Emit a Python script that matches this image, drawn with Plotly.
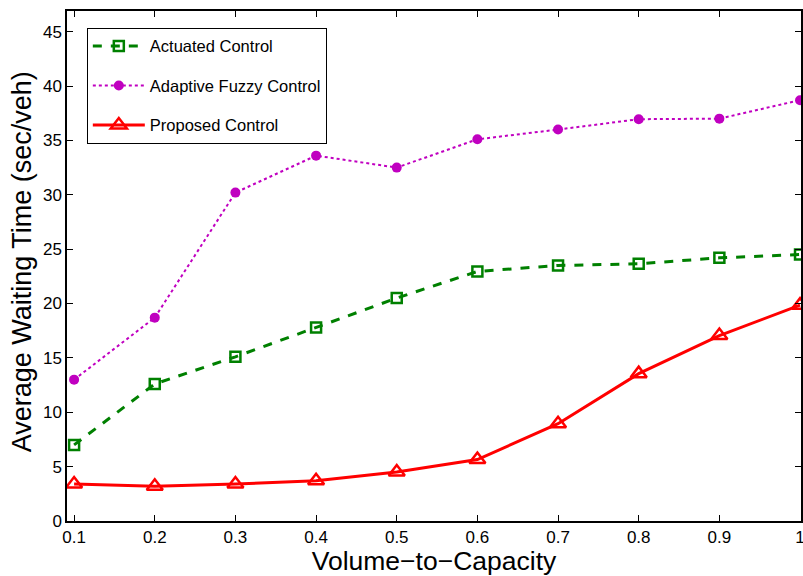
import plotly.graph_objects as go

x_vals = [0.1, 0.2, 0.3, 0.4, 0.5, 0.6, 0.7, 0.8, 0.9, 1.0]
actuated = [7.0, 12.6, 15.1, 17.8, 20.5, 22.95, 23.5, 23.65, 24.2, 24.5]
fuzzy = [13.0, 18.7, 30.2, 33.6, 32.5, 35.1, 36.0, 36.95, 37.0, 38.7]
proposed = [3.4, 3.2, 3.4, 3.7, 4.5, 5.65, 8.95, 13.55, 17.05, 19.85]
x_ticks = [0.1, 0.2, 0.3, 0.4, 0.5, 0.6, 0.7, 0.8, 0.9, 1.0]
x_tick_text = ["0.1", "0.2", "0.3", "0.4", "0.5", "0.6", "0.7", "0.8", "0.9", "1"]
y_ticks = [0, 5, 10, 15, 20, 25, 30, 35, 40, 45]

font_family = "Liberation Sans, Arial, Helvetica, sans-serif"

fig = go.Figure()
fig.add_trace(go.Scatter(
    x=x_vals, y=actuated, name="Actuated Control", mode="lines+markers",
    line=dict(color="#008000", width=3, dash="dash"),
    marker=dict(symbol="square-open", size=10, color="#008000", line=dict(width=2.5)),
    legendgroup="a",
))
fig.add_trace(go.Scatter(
    x=x_vals, y=fuzzy, name="Adaptive Fuzzy Control", mode="lines+markers",
    line=dict(color="#c000c0", width=2, dash="dot"),
    marker=dict(symbol="circle", size=10, color="#c000c0"),
    legendgroup="b",
))
fig.add_trace(go.Scatter(
    x=x_vals, y=proposed, name="Proposed Control", mode="lines+markers",
    line=dict(color="#ff0000", width=3),
    marker=dict(symbol="triangle-up-open", size=14, color="#ff0000", line=dict(width=2.5)),
    legendgroup="c",
))

axis_common = dict(
    showline=True, linecolor="#000000", linewidth=1.5, mirror="ticks",
    ticks="inside", ticklen=6, tickcolor="#000000", tickwidth=1,
    showgrid=False, zeroline=False, automargin=False, ticklabeloverflow="allow",
    tickfont=dict(family=font_family, size=17, color="#000000"),
)

fig.update_layout(
    width=803, height=576,
    margin=dict(l=67, r=2, t=11, b=55),
    paper_bgcolor="white", plot_bgcolor="white",
    font=dict(family=font_family, color="#000000"),
    xaxis=dict(range=[0.0912, 1.0012], tickvals=x_ticks, ticktext=x_tick_text,
               title=dict(text="Volume\u2212to\u2212Capacity", font=dict(size=26.5), standoff=3),
               **axis_common),
    yaxis=dict(range=[0, 46.9], tickvals=y_ticks, **axis_common),
    legend=dict(x=0.027, y=0.967, xanchor="left", yanchor="top",
                bgcolor="white", bordercolor="#000000", borderwidth=1,
                font=dict(family=font_family, size=16.5, color="#000000"),
                traceorder="grouped", tracegroupgap=15, itemwidth=52),
    showlegend=True,
    annotations=[dict(
        text="Average Waiting Time (sec/veh)", textangle=-90,
        xref="paper", yref="paper", x=-0.0614, y=0.509,
        xanchor="center", yanchor="middle", showarrow=False,
        font=dict(family=font_family, size=27, color="#000000"),
    )],
)

fig.write_html("out.html")
